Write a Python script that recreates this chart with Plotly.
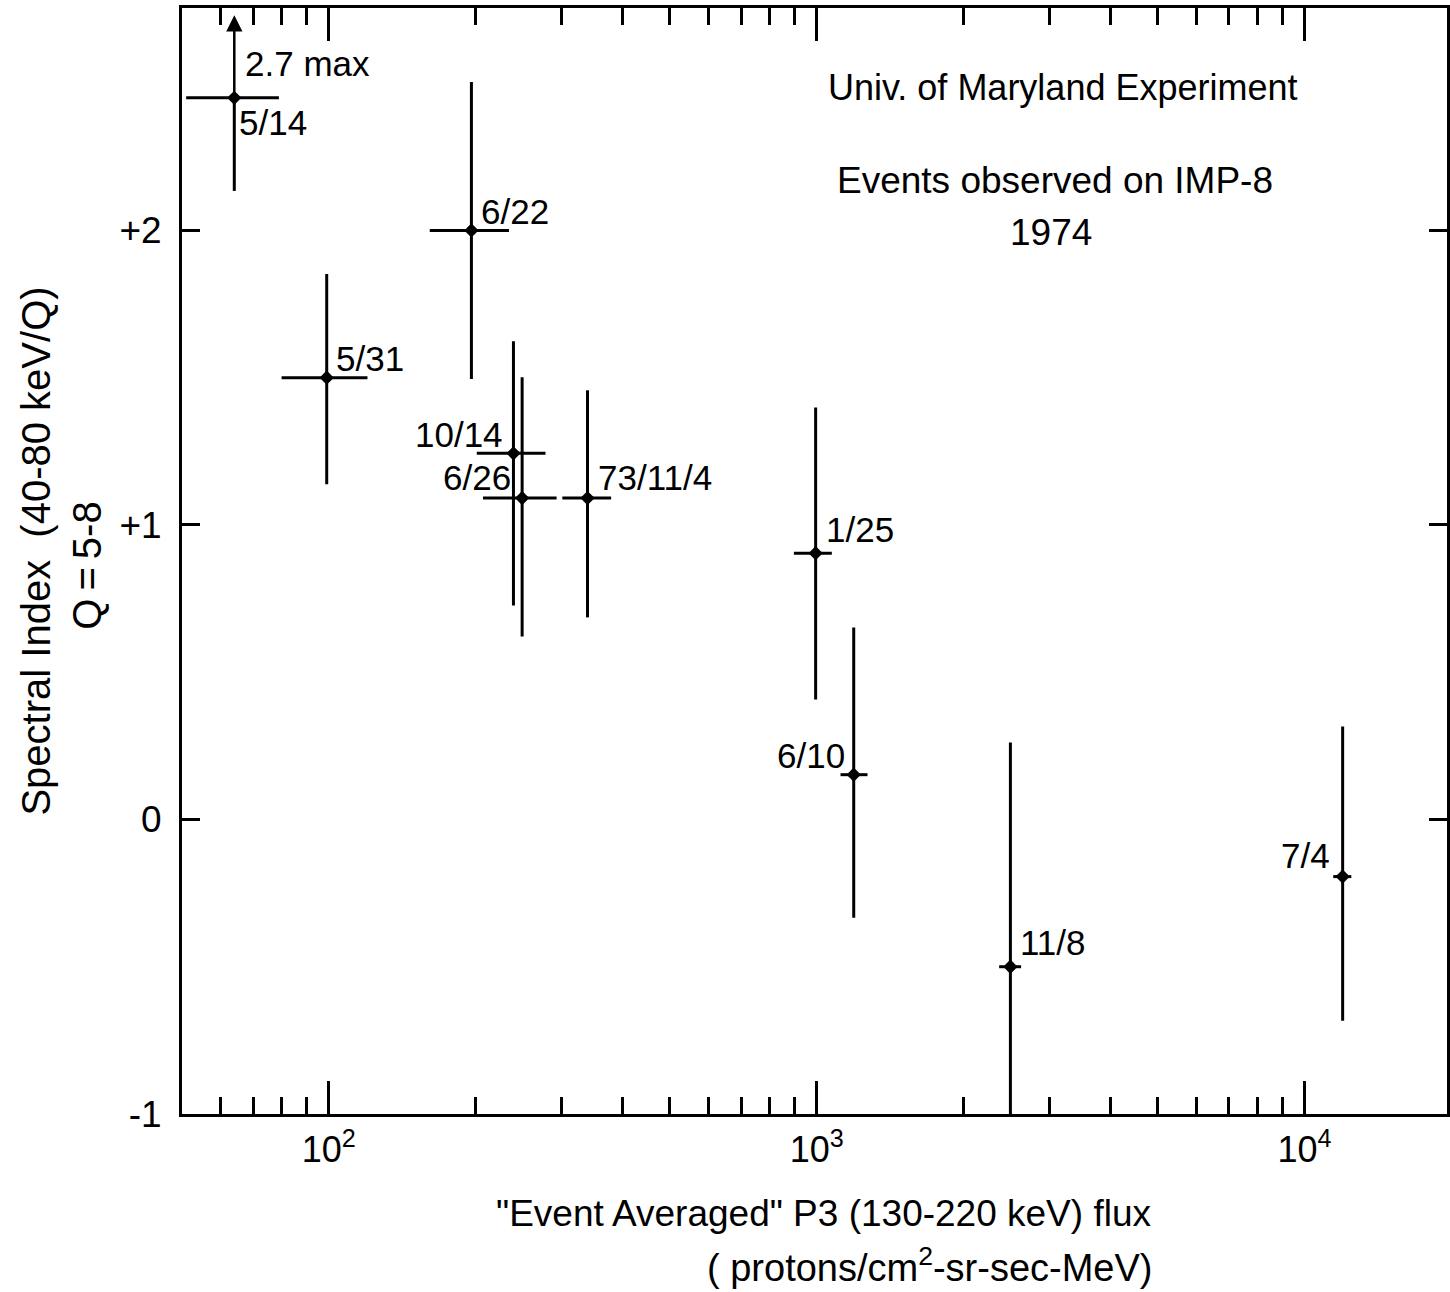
import numpy as np
import plotly.graph_objects as go

# ---------------- data ----------------
events = ["5/14", "5/31", "6/22", "10/14", "6/26", "73/11/4", "1/25", "6/10", "11/8", "7/4"]
flux = [64, 99, 196, 239, 249, 339, 995, 1191, 2495, 11970]
flux_lo = [51, 80, 161, 201, 207, 301, 898, 1119, 2366, 11450]
flux_hi = [79, 120, 234, 278, 293, 379, 1074, 1271, 2624, 12470]
spec_index = [2.45, 1.50, 2.00, 1.243, 1.091, 1.091, 0.904, 0.152, -0.50, -0.194]
spec_lo = [2.134, 1.138, 1.495, 0.726, 0.621, 0.686, 0.407, -0.334, -1.0, -0.683]
spec_hi = [2.73, 1.852, 2.504, 1.624, 1.501, 1.457, 1.399, 0.652, 0.261, 0.316]
upper_limit = [True, False, False, False, False, False, False, False, False, False]
upper_limit_text = "2.7 max"

x_major = [100, 1000, 10000]
x_major_text = ["10<sup>2</sup>", "10<sup>3</sup>", "10<sup>4</sup>"]
x_minor = [60, 70, 80, 90, 200, 300, 400, 500, 600, 700, 800, 900,
           2000, 3000, 4000, 5000, 6000, 7000, 8000, 9000]
y_ticks = [-1, 0, 1, 2]
y_tick_text = ["-1", "0", "+1", "+2"]

# ---------------- styling ----------------
FONT = "Liberation Sans, Arial, sans-serif"
INK = "black"
# label placement: (xanchor, xshift px, yshift px)
label_pos = [("left", 3, -25), ("left", 7, 19), ("left", 8, 19), ("right", -8, 19),
             ("right", -9, 21), ("left", 8, 21), ("left", 8, 24), ("right", -7, 19),
             ("left", 8, 24), ("right", -11, 21)]

f = np.array(flux, float)
s = np.array(spec_index, float)
err_x_plus = np.array(flux_hi) - f
err_x_minus = f - np.array(flux_lo)
err_y_plus = np.where(upper_limit, 0.0, np.array(spec_hi) - s)
err_y_minus = s - np.array(spec_lo)

fig = go.Figure()
fig.add_trace(go.Scatter(
    x=flux, y=spec_index, mode="markers",
    marker=dict(symbol="diamond", size=11, color=INK),
    error_x=dict(type="data", symmetric=False, array=err_x_plus, arrayminus=err_x_minus,
                 thickness=3, width=0, color=INK),
    error_y=dict(type="data", symmetric=False, array=err_y_plus, arrayminus=err_y_minus,
                 thickness=3, width=0, color=INK),
    showlegend=False, hoverinfo="skip",
))

annotations = []
for i, ev in enumerate(events):
    anc, dx, dy = label_pos[i]
    annotations.append(dict(
        x=np.log10(flux[i]), y=spec_index[i], xref="x", yref="y", text=ev,
        showarrow=False, xanchor=anc, yanchor="middle", xshift=dx, yshift=dy,
        font=dict(family=FONT, size=35, color=INK)))
    if upper_limit[i]:
        annotations.append(dict(
            x=np.log10(flux[i]), y=spec_hi[i], ax=np.log10(flux[i]), ay=spec_index[i],
            xref="x", yref="y", axref="x", ayref="y", text="", showarrow=True,
            arrowhead=2, arrowsize=1.3, arrowwidth=2.5, arrowcolor=INK, standoff=0,
            startstandoff=0))
        annotations.append(dict(
            x=np.log10(flux[i]), y=spec_index[i], xref="x", yref="y", text=upper_limit_text,
            showarrow=False, xanchor="left", yanchor="middle", xshift=9, yshift=34,
            font=dict(family=FONT, size=35, color=INK)))

def txt(text, x, y, size=36, xanchor="center", angle=0):
    annotations.append(dict(x=x, y=y, xref="paper", yref="paper", text=text,
                            showarrow=False, xanchor=xanchor, yanchor="middle",
                            textangle=angle, font=dict(family=FONT, size=size, color=INK)))

txt("Univ. of Maryland Experiment", 0.6964, 0.9277, size=36)
txt("Events observed on IMP-8", 0.6901, 0.8436, size=37)
txt("1974", 0.6869, 0.7966, size=37)
txt("\"Event Averaged\" P3 (130-220 keV) flux", 0.507, -0.0904, size=37)
txt("( protons/cm<sup>2</sup>-sr-sec-MeV)", 0.769, -0.1365, size=38, xanchor="right")
txt("Spectral Index  (40-80 keV/Q)", -0.1150, 0.509, size=40, angle=-90)
txt("Q\u2009=\u20095-8", -0.0749, 0.496, size=40, angle=-90)

fig.update_layout(
    width=1450, height=1292,
    margin=dict(l=182, r=0, t=8, b=178),
    paper_bgcolor="white", plot_bgcolor="white",
    font=dict(family=FONT, color=INK),
    annotations=annotations,
    xaxis=dict(
        type="log", range=[1.699, 4.292],
        tickmode="array", tickvals=x_major, ticktext=x_major_text,
        ticks="inside", ticklen=33, tickwidth=3, tickcolor=INK,
        showline=True, linewidth=3, linecolor=INK, mirror="ticks",
        showgrid=False, zeroline=False,
        tickfont=dict(family=FONT, size=36, color=INK),
        ticklabelstandoff=2,
        minor=dict(tickmode="array", tickvals=x_minor, ticks="inside", ticklen=17,
                   tickwidth=3, tickcolor=INK, showgrid=False),
    ),
    yaxis=dict(
        range=[-1, 2.755],
        tickmode="array", tickvals=y_ticks, ticktext=y_tick_text,
        ticks="inside", ticklen=18, tickwidth=3, tickcolor=INK,
        showline=True, linewidth=3, linecolor=INK, mirror="ticks",
        showgrid=False, zeroline=False,
        tickfont=dict(family=FONT, size=37, color=INK),
        ticklabelstandoff=10,
    ),
)

fig.write_html("out.html")
